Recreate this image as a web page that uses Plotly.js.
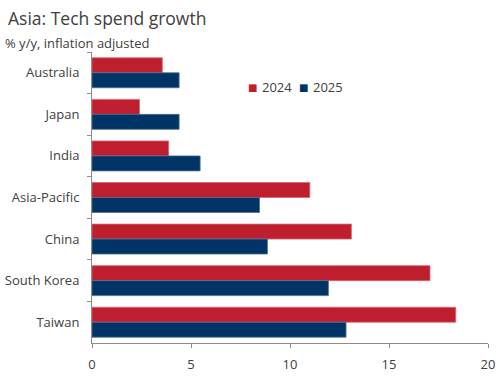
<!DOCTYPE html>
<html>
<head>
<meta charset="utf-8">
<script src="https://cdn.plot.ly/plotly-3.0.1.min.js"></script>
<style>html,body{margin:0;padding:0;background:#fff;}#chart{width:500px;height:390px;}</style>
</head>
<body>
<div id="chart"></div>
<script>
var categories = ["Australia", "Japan", "India", "Asia-Pacific", "China", "South Korea", "Taiwan"];
var values2024 = [3.55, 2.4, 3.87, 11.0, 13.1, 17.07, 18.37];
var values2025 = [4.4, 4.4, 5.46, 8.46, 8.86, 11.94, 12.83];
var seriesNames = ["2024", "2025"];
var seriesColors = ["#BE1E2D", "#003366"];
var xTicks = [0, 5, 10, 15, 20];

var font = "Open Sans, Noto Sans, sans-serif";
var traces = [
  {type: "bar", orientation: "h", name: seriesNames[0], y: categories, x: values2024,
   marker: {color: seriesColors[0], line: {color: "#D9646E", width: 0.8}}},
  {type: "bar", orientation: "h", name: seriesNames[1], y: categories, x: values2025,
   marker: {color: seriesColors[1], line: {color: "#4D6F93", width: 0.8}}}
];

var legendAnn = [];
var legX = [0.429, 0.557];
seriesNames.forEach(function (n, i) {
  legendAnn.push({text: "■", xref: "paper", yref: "paper", x: legX[i], y: 0.879, xanchor: "right", yanchor: "middle",
    showarrow: false, font: {family: "DejaVu Sans", size: 10, color: seriesColors[i]}, xshift: -3, yshift: 0});
  legendAnn.push({text: n, xref: "paper", yref: "paper", x: legX[i], y: 0.879, xanchor: "left", yanchor: "middle",
    showarrow: false, font: {size: 13, color: "#404040"}, xshift: -2});
});

var layout = {
  width: 500, height: 390,
  margin: {l: 92, r: 12, t: 52, b: 47},
  paper_bgcolor: "#fff", plot_bgcolor: "#fff",
  font: {family: font, size: 13, color: "#404040"},
  barmode: "group", bargap: 0.28, bargroupgap: 0,
  showlegend: false,
  xaxis: {range: [0, 20], tickvals: xTicks, ticktext: xTicks.map(String),
          showgrid: false, zeroline: false, showline: true, linecolor: "#8c8c8c", linewidth: 1,
          ticks: "outside", ticklen: 4, tickcolor: "#8c8c8c", ticklabelstandoff: 5, fixedrange: true},
  yaxis: {autorange: "reversed", showgrid: false, zeroline: false, showline: true,
          linecolor: "#8c8c8c", linewidth: 1, ticks: "outside", ticklen: 4, tickcolor: "#8c8c8c",
          tickson: "boundaries", ticklabelstandoff: 9},
  annotations: [
    {text: "Asia: Tech spend growth", xref: "paper", yref: "paper", x: 0, y: 1, xanchor: "left", yanchor: "bottom",
     showarrow: false, font: {size: 17.5, color: "#404040"}, xshift: -86, yshift: 20},
    {text: "% y/y, inflation adjusted", xref: "paper", yref: "paper", x: 0, y: 1, xanchor: "left", yanchor: "bottom",
     showarrow: false, font: {size: 13, color: "#404040"}, xshift: -89, yshift: -2}
  ].concat(legendAnn)
};
Plotly.newPlot("chart", traces, layout, {displayModeBar: false, staticPlot: true});
</script>
</body>
</html>
